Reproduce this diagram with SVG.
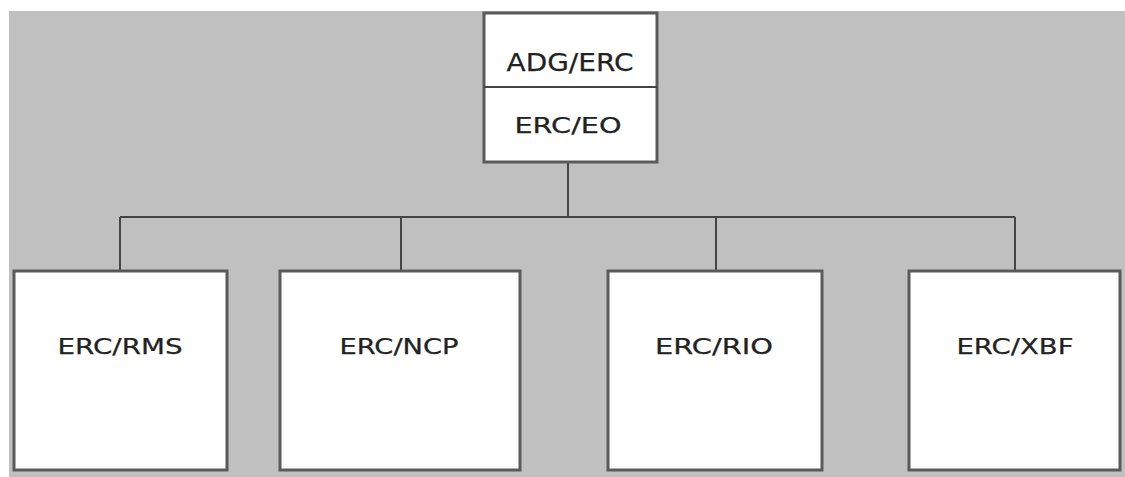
<svg xmlns="http://www.w3.org/2000/svg" width="1125" height="477" viewBox="0 0 1125 477">
<style>
.box{fill:#ffffff;stroke:#5a5a5a;stroke-width:3}
.lbl{font-family:"DejaVu Sans",Verdana,sans-serif;fill:#222;stroke:#222;stroke-width:0.25;text-anchor:middle}
.conn{fill:none;stroke:#444;stroke-width:2}
</style>
<rect x="0" y="0" width="1125" height="477" fill="#ffffff"/>
<rect x="9" y="11" width="1116" height="466" fill="#c0c0c0"/>
<g id="connectors">
<path class="conn" d="M568,162 V217 M120,217 H1015 M120,217 V270 M401,217 V270 M716,217 V270 M1015,217 V270"/>
</g>
<g id="node-top">
<rect class="box" x="484" y="13" width="173" height="149"/>
<line x1="484" y1="87" x2="657" y2="87" stroke="#444" stroke-width="2"/>
<text class="lbl" x="570" y="71" font-size="24" stroke-width="0.6" textLength="127" lengthAdjust="spacingAndGlyphs">ADG/ERC</text>
<text class="lbl" x="568" y="133" font-size="21" textLength="107" lengthAdjust="spacingAndGlyphs">ERC/EO</text>
</g>
<g id="node-rms">
<rect class="box" x="14" y="271" width="213" height="199"/>
<text class="lbl" x="120" y="354" font-size="21" textLength="125" lengthAdjust="spacingAndGlyphs">ERC/RMS</text>
</g>
<g id="node-ncp">
<rect class="box" x="280" y="271" width="240" height="199"/>
<text class="lbl" x="399" y="354" font-size="21" textLength="119" lengthAdjust="spacingAndGlyphs">ERC/NCP</text>
</g>
<g id="node-rio">
<rect class="box" x="608" y="271" width="214" height="199"/>
<text class="lbl" x="714" y="354" font-size="21" textLength="118" lengthAdjust="spacingAndGlyphs">ERC/RIO</text>
</g>
<g id="node-xbf">
<rect class="box" x="909" y="271" width="211" height="199"/>
<text class="lbl" x="1015" y="354" font-size="21" textLength="117" lengthAdjust="spacingAndGlyphs">ERC/XBF</text>
</g>
</svg>
